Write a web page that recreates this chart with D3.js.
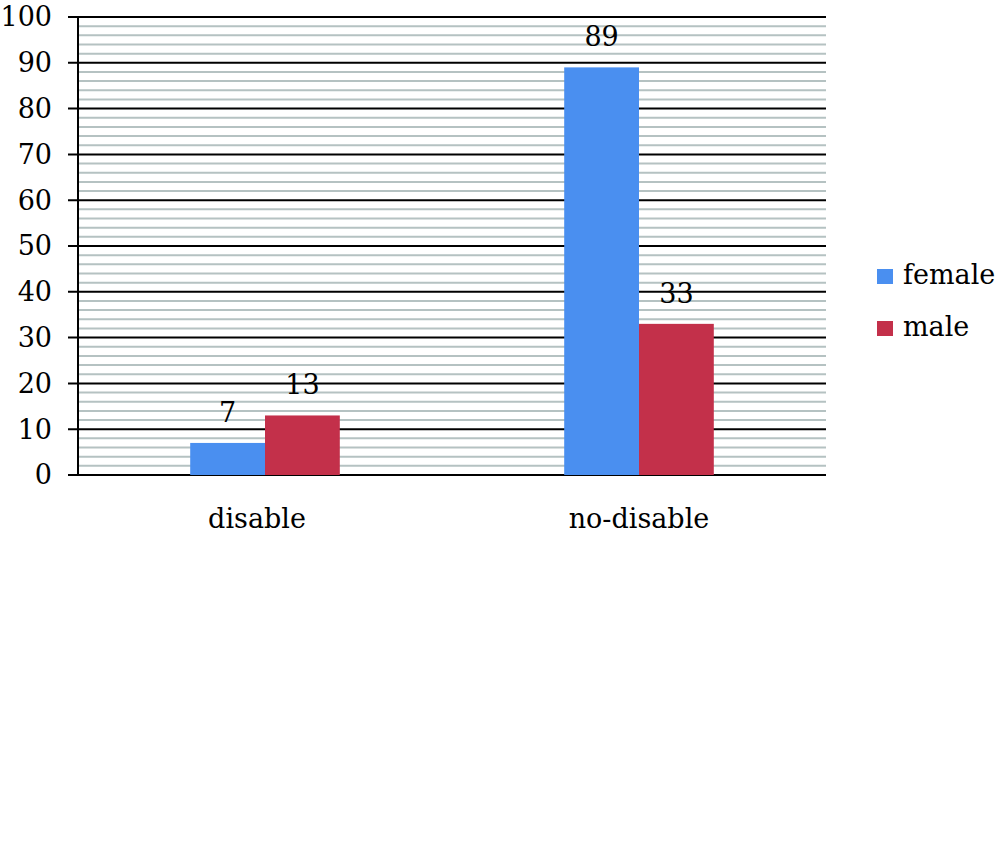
<!DOCTYPE html>
<html><head><meta charset="utf-8">
<script src="https://cdn.jsdelivr.net/npm/d3@7"></script>
<style>body{margin:0;background:#fff}svg{display:block}text{font-family:"DejaVu Serif",serif;fill:#000}</style>
</head><body>
<script>
const categories = ["disable", "no-disable"];
const seriesNames = ["female", "male"];
const female = [7, 89];
const male = [13, 33];
const yTicks = [0, 10, 20, 30, 40, 50, 60, 70, 80, 90, 100];
const minorTicks = d3.range(0, 101, 2);
const colors = ["#4a8ff0", "#c3304a"];

(function () {
const W = 1000, H = 848;
const svg = d3.select("body").append("svg").attr("width", W).attr("height", H);
const pl = 78, pr = 826, pt = 17, pb = 475;
const fs = 27;

const x = d3.scaleBand().domain(categories).range([pl, pr]).padding(0);
const y = d3.scaleLinear().domain([0, 100]).range([pb, pt]);
const groupW = x.bandwidth() * 0.4;
const xs = d3.scaleBand().domain(seriesNames).range([0, groupW]);

// minor grid
svg.append("g").selectAll("line").data(minorTicks.filter(t => t % 10 !== 0)).join("line")
  .attr("x1", pl).attr("x2", pr).attr("y1", d => y(d)).attr("y2", d => y(d))
  .attr("stroke", "#b5c2c2").attr("stroke-width", 2);

// major grid
svg.append("g").selectAll("line").data(yTicks).join("line")
  .attr("x1", pl - 10).attr("x2", pr).attr("y1", d => y(d)).attr("y2", d => y(d))
  .attr("stroke", "#000").attr("stroke-width", 2);

// y axis line
svg.append("line").attr("x1", pl).attr("x2", pl).attr("y1", pt).attr("y2", pb)
  .attr("stroke", "#000").attr("stroke-width", 2);

// y tick labels
svg.append("g").selectAll("text").data(yTicks).join("text")
  .attr("x", 52).attr("y", d => y(d)).attr("dy", "0.35em").attr("text-anchor", "end")
  .attr("font-size", fs).text(d => d);

const data = seriesNames.map((s, i) => ({ name: s, values: i === 0 ? female : male, color: colors[i] }));

data.forEach(s => {
  const g = svg.append("g");
  g.selectAll("rect").data(categories).join("rect")
    .attr("x", (c) => x(c) + (x.bandwidth() - groupW) / 2 + xs(s.name))
    .attr("width", xs.bandwidth())
    .attr("y", (c, i) => y(s.values[i]))
    .attr("height", (c, i) => y(0) - y(s.values[i]))
    .attr("fill", s.color);
  g.selectAll("text").data(categories).join("text")
    .attr("x", (c) => x(c) + (x.bandwidth() - groupW) / 2 + xs(s.name) + xs.bandwidth() / 2)
    .attr("y", (c, i) => y(s.values[i]) - 21)
    .attr("text-anchor", "middle").attr("font-size", fs)
    .text((c, i) => s.values[i]);
});

// x labels
svg.append("g").selectAll("text").data(categories).join("text")
  .attr("x", c => x(c) + x.bandwidth() / 2 - (c === "disable" ? 8 : 0)).attr("y", 528)
  .attr("text-anchor", "middle").attr("font-size", fs).text(c => c);

// legend
const leg = svg.append("g").attr("transform", "translate(877,269)");
data.forEach((s, i) => {
  const r = leg.append("g").attr("transform", `translate(0,${i * 52})`);
  r.append("rect").attr("width", 16).attr("height", 15).attr("fill", s.color);
  r.append("text").attr("x", 26).attr("y", 15).attr("font-size", fs).text(s.name);
});
})();
</script>
</body></html>
